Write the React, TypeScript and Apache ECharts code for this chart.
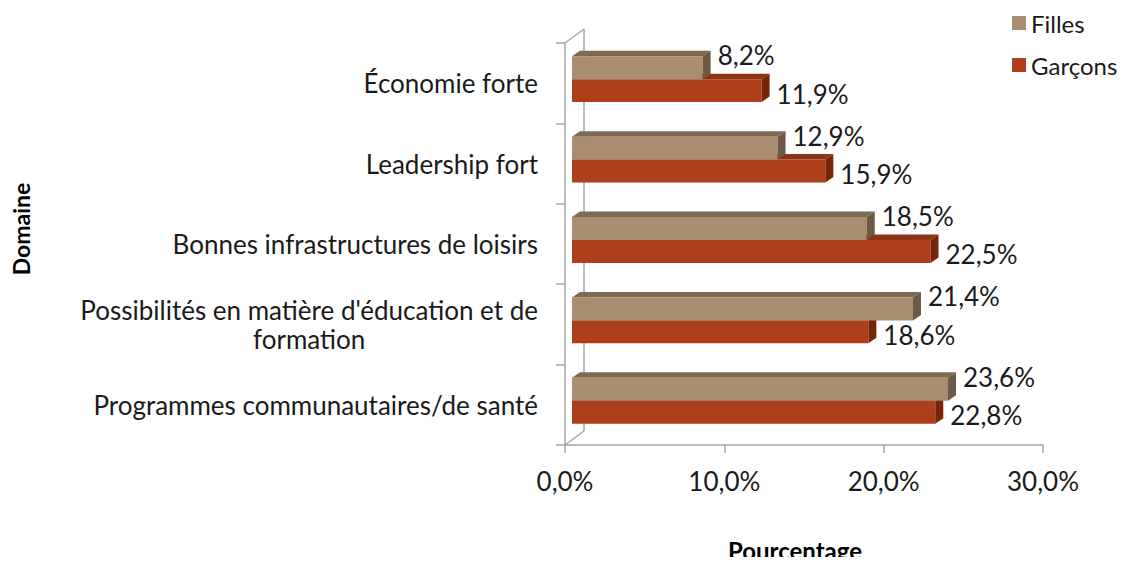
import React, { useEffect, useRef } from "react";
import * as echarts from "echarts";

const categories = [
  "Économie forte",
  "Leadership fort",
  "Bonnes infrastructures de loisirs",
  "Possibilités en matière d'éducation et de\nformation",
  "Programmes communautaires/de santé",
];
const filles = [8.2, 12.9, 18.5, 21.4, 23.6];
const garcons = [11.9, 15.9, 22.5, 18.6, 22.8];
const xMin = 0;
const xMax = 30;
const xInterval = 10;
const seriesNames = ["Filles", "Garçons"];

const FONT = "Lato, 'Noto Sans', sans-serif";
const FS = 26;
const fmt = (v: number) => v.toFixed(1).replace(".", ",") + "%";

const colors = {
  Filles: { front: "#A88D70", top: "#7E6953", side: "#6C5945" },
  Garçons: { front: "#AD401A", top: "#8E3315", side: "#73260C" },
};

const DX = 8;
const DY = -5.5;

function barRenderer(which: "Filles" | "Garçons") {
  return (params: any, api: any) => {
    const v = api.value(0);
    const c = api.value(1);
    const start = api.coord([0, c]);
    const end = api.coord([v, c]);
    const band = api.size([0, 1])[1];
    const h = band * 0.285;
    const shift = -band * 0.05;
    const x0 = start[0] + 7;
    const x1 = end[0] + 7;
    const y0 = which === "Filles" ? start[1] + shift - h : start[1] + shift;
    const col = colors[which];
    const labelY = which === "Filles" ? y0 - 1 : y0 + h / 2 + 3;
    return {
      type: "group",
      children: [
        {
          type: "polygon",
          shape: { points: [[x0, y0], [x1, y0], [x1 + DX, y0 + DY], [x0 + DX, y0 + DY]] },
          style: { fill: col.top },
        },
        {
          type: "rect",
          shape: { x: x0, y: y0, width: x1 - x0, height: h },
          style: { fill: col.front },
        },
        {
          type: "polygon",
          shape: { points: [[x1, y0], [x1 + DX, y0 + DY], [x1 + DX, y0 + h + DY], [x1, y0 + h]] },
          style: { fill: col.side },
        },
        {
          type: "text",
          x: x1 + 15,
          y: labelY,
          style: {
            text: fmt(v),
            fill: "#1a1a1a",
            fontSize: FS,
            fontFamily: FONT,
            align: "left",
            verticalAlign: "middle",
          },
        },
      ],
    };
  };
}

function frameRenderer(params: any, api: any) {
  const band = api.size([0, 1])[1];
  const top = api.coord([0, 0]);
  const bot = api.coord([0, categories.length - 1]);
  const x = top[0];
  const yTop = top[1] - band / 2;
  const yBot = bot[1] + band / 2;
  const bx = 19;
  const by = -14;
  const st = { stroke: "#A6A6A6", lineWidth: 1.5 };
  return {
    type: "group",
    children: [
      { type: "line", shape: { x1: x, y1: yTop, x2: x + bx, y2: yTop + by }, style: st },
      { type: "line", shape: { x1: x + bx, y1: yTop + by, x2: x + bx, y2: yBot + by }, style: st },
      { type: "line", shape: { x1: x + bx, y1: yBot + by, x2: x, y2: yBot }, style: st },
    ],
  };
}

export default function App() {
  const ref = useRef<HTMLDivElement>(null);
  useEffect(() => {
    if (!ref.current) return;
    const chart = echarts.init(ref.current, undefined, { renderer: "svg" });
    chart.setOption({
      animation: false,
      backgroundColor: "#ffffff",
      grid: { left: 565, top: 43, width: 478, height: 402, outerBoundsMode: "none", containLabel: false },
      legend: {
        data: seriesNames,
        orient: "vertical",
        left: 1007,
        top: 6,
        icon: "rect",
        itemWidth: 14,
        itemHeight: 14,
        itemGap: 18,
        textStyle: { fontSize: 24, fontFamily: FONT, color: "#1a1a1a" },
      },
      xAxis: {
        type: "value",
        min: xMin,
        max: xMax,
        interval: xInterval,
        name: "Pourcentage",
        nameLocation: "middle",
        nameGap: 93,
        nameTextStyle: {
          fontSize: 24,
          fontWeight: "bold",
          fontFamily: FONT,
          color: "#000",
          padding: [0, 18, 0, 0],
        },
        axisLine: { show: true, lineStyle: { color: "#A6A6A6", width: 1.5 } },
        axisTick: { show: true, length: 8, lineStyle: { color: "#A6A6A6", width: 1.5 } },
        splitLine: { show: false },
        axisLabel: {
          formatter: (v: number) => fmt(v),
          fontSize: FS,
          fontFamily: FONT,
          color: "#1a1a1a",
          margin: 23,
        },
      },
      yAxis: {
        type: "category",
        inverse: true,
        data: categories,
        name: "Domaine",
        nameLocation: "middle",
        nameRotate: 90,
        nameGap: 533,
        nameTextStyle: {
          fontSize: 23,
          fontWeight: "bold",
          fontFamily: FONT,
          color: "#000",
          padding: [0, 0, 0, 30],
        },
        axisLine: { show: true, lineStyle: { color: "#A6A6A6", width: 1.5 } },
        axisTick: { show: true, length: 9, lineStyle: { color: "#A6A6A6", width: 1.5 } },
        axisLabel: {
          margin: 27,
          formatter: (val: string) =>
            val
              .split("\n")
              .map((l, i) => (i === 0 ? `{r|${l}}` : `{c|${l}}`))
              .join("\n"),
          rich: {
            r: { fontSize: FS, fontFamily: FONT, color: "#1a1a1a", align: "right", lineHeight: 29 },
            c: { fontSize: FS, fontFamily: FONT, color: "#1a1a1a", align: "center", lineHeight: 29 },
          },
        },
      },
      series: [
        {
          type: "custom",
          name: "frame",
          z: 1,
          renderItem: frameRenderer,
          data: [[0, 0]],
          silent: true,
        },
        {
          type: "custom",
          name: "Garçons",
          z: 2,
          itemStyle: { color: colors["Garçons"].front },
          renderItem: barRenderer("Garçons"),
          data: garcons.map((v, i) => [v, i]),
          encode: { x: 0, y: 1 },
        },
        {
          type: "custom",
          name: "Filles",
          z: 3,
          itemStyle: { color: colors.Filles.front },
          renderItem: barRenderer("Filles"),
          data: filles.map((v, i) => [v, i]),
          encode: { x: 0, y: 1 },
        },
      ],
    });
    return () => chart.dispose();
  }, []);
  return <div ref={ref} style={{ width: 1130, height: 565, margin: -8 }} />;
}
